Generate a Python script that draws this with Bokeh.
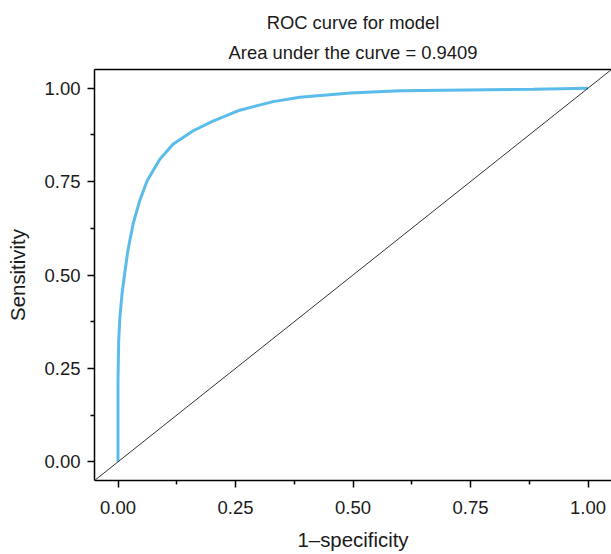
from bokeh.plotting import figure
from bokeh.models import Range1d, FixedTicker, Slope, Title, LinearAxis
from bokeh.embed import file_html
from bokeh.resources import INLINE

# ROC curve points
fpr = [0.0, 0.0, 0.0015, 0.004, 0.0085, 0.014, 0.021, 0.025, 0.032, 0.046,
       0.062, 0.089, 0.117, 0.160, 0.202, 0.259, 0.330, 0.387, 0.494, 0.600,
       0.742, 0.884, 1.0]
tpr = [0.0, 0.217, 0.324, 0.386, 0.449, 0.502, 0.565, 0.591, 0.636, 0.698,
       0.752, 0.810, 0.850, 0.886, 0.912, 0.941, 0.964, 0.976, 0.987, 0.993,
       0.995, 0.997, 1.0]

tick_values = [0.0, 0.25, 0.5, 0.75, 1.0]
tick_labels = ["0.00", "0.25", "0.50", "0.75", "1.00"]
minor_values = [0.125, 0.375, 0.625, 0.875]

title_line1 = "ROC curve for model"
title_line2 = "Area under the curve = 0.9409"
x_title = "1\u2013specificity"
y_title = "Sensitivity"

FONT = "Liberation Sans"
TXT = "#1a1a1a"

p = figure(width=611, height=554, output_backend="svg", toolbar_location=None,
           x_range=Range1d(-0.05, 1.05), y_range=Range1d(-0.05, 1.05),
           min_border_left=94, min_border_right=0, min_border_top=69,
           min_border_bottom=74, x_axis_type=None, y_axis_type=None)
p.outline_line_color = None
p.grid.visible = False
p.background_fill_color = "white"
p.border_fill_color = "white"

ticker = FixedTicker(ticks=tick_values, minor_ticks=minor_values)
overrides = {v: s for v, s in zip(tick_values, tick_labels)}

xa = LinearAxis(ticker=ticker, major_label_overrides=overrides, axis_label=x_title)
ya = LinearAxis(ticker=ticker, major_label_overrides=overrides, axis_label=y_title)
for ax in (xa, ya):
    ax.axis_line_color = "black"
    ax.axis_line_width = 1.5
    ax.major_tick_line_color = "black"
    ax.major_tick_line_width = 1.5
    ax.major_tick_out = 7
    ax.major_tick_in = 0
    ax.minor_tick_line_color = "black"
    ax.minor_tick_line_width = 1.5
    ax.minor_tick_out = 4
    ax.minor_tick_in = 0
    ax.major_label_text_font = FONT
    ax.major_label_text_font_size = "18.5px"
    ax.major_label_text_color = TXT
    ax.axis_label_text_font = FONT
    ax.axis_label_text_font_size = "20.4px"
    ax.axis_label_text_font_style = "normal"
    ax.axis_label_text_color = TXT
xa.major_label_standoff = 13
xa.axis_label_standoff = 12
ya.major_label_standoff = 7
ya.axis_label_standoff = 12
p.add_layout(xa, "below")
p.add_layout(ya, "left")

# top border line of the panel
top = LinearAxis(ticker=FixedTicker(ticks=[]), major_label_text_font_size="0px")
top.axis_line_color = "black"
top.axis_line_width = 1.5
top.major_tick_line_color = None
top.minor_tick_line_color = None
p.add_layout(top, "above")

# two-line title (first added sits closest to the panel)
p.add_layout(Title(text=title_line2, align="center", text_font=FONT,
                   text_font_size="18.4px", text_font_style="normal",
                   text_color=TXT, standoff=14), "above")
p.add_layout(Title(text=title_line1, align="center", text_font=FONT,
                   text_font_size="18.4px", text_font_style="normal",
                   text_color=TXT, standoff=0), "above")

# reference diagonal
p.add_layout(Slope(gradient=1, y_intercept=0, line_color="#333333", line_width=1))

# ROC curve
p.line(fpr, tpr, line_color="#5BBCEB", line_width=3)

open("out.html", "w").write(file_html(p, INLINE))
